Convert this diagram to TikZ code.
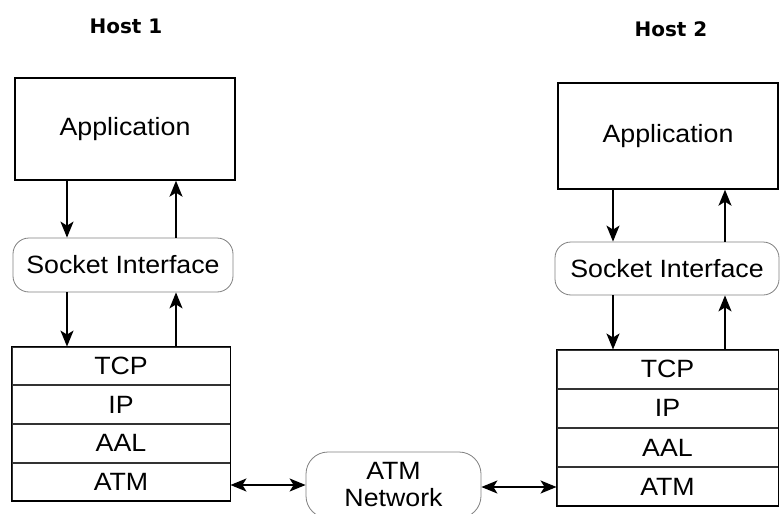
\documentclass[tikz,border=0pt]{standalone}
\usepackage{fontspec}
\setmainfont[FakeStretch=1.07]{Liberation Sans}
\newfontfamily\hostfont{DejaVu Sans}
\usetikzlibrary{arrows.meta}
\begin{document}
\begin{tikzpicture}[x=1pt,y=-1pt,
  lbl/.style={font=\fontsize{25}{27}\selectfont, inner sep=0pt},
  hostlabel/.style={font=\hostfont\bfseries\fontsize{20}{24}\selectfont, inner sep=0pt},
  appbox/.style={lbl, draw, line width=1.4pt},
  sockbox/.style={lbl, draw=black!50, line width=0.8pt, rounded corners=16pt},
  layer1/.style={lbl, draw=black!80, line width=0.9pt, minimum width=218pt, minimum height=37.75pt},
  layer2/.style={lbl, draw=black!80, line width=0.9pt, minimum width=221pt, minimum height=38.25pt},
  frame/.style={draw, line width=1.4pt},
  netbox/.style={lbl, draw=black!50, line width=0.8pt, rounded corners=22pt, align=center},
  arr/.style={line width=1.7pt, -{Stealth[length=16pt,width=13pt,inset=4pt]}},
  darr/.style={line width=1.7pt, {Stealth[length=16pt,width=13pt,inset=4pt]}-{Stealth[length=16pt,width=13pt,inset=4pt]}}
]
\clip (0,0) rectangle (780,514);
\fill[white] (0,0) rectangle (780,514);

% host titles
\node[hostlabel] (h1) at (126,26) {Host 1};
\node[hostlabel] (h2) at (671,29) {Host 2};

% host 1
\node[appbox, minimum width=220pt, minimum height=102pt] (app1) at (125,129) {Application};
\node[sockbox, minimum width=220pt, minimum height=54pt] (sock1) at (123,265) {Socket Interface};
\node[layer1] (tcp1) at (121,365.9) {TCP};
\node[layer1, anchor=north] (ip1) at (tcp1.south) {IP};
\node[layer1, anchor=north] (aal1) at (ip1.south) {AAL};
\node[layer1, anchor=north] (atm1) at (aal1.south) {ATM};
\draw[frame] (tcp1.north west) rectangle (atm1.south east);

% host 2
\node[appbox, minimum width=220pt, minimum height=106pt] (app2) at (668,136) {Application};
\node[sockbox, minimum width=224pt, minimum height=53pt] (sock2) at (667,268.5) {Socket Interface};
\node[layer2] (tcp2) at (667.5,369.1) {TCP};
\node[layer2, anchor=north] (ip2) at (tcp2.south) {IP};
\node[layer2, anchor=north] (aal2) at (ip2.south) {AAL};
\node[layer2, anchor=north] (atm2) at (aal2.south) {ATM};
\draw[frame] (tcp2.north west) rectangle (atm2.south east);

% network cloud
\node[netbox, minimum width=175pt, minimum height=66pt] (net) at (393.5,485) {ATM\\Network};

% vertical columns for the arrows
\coordinate (c1d) at (67,0);
\coordinate (c1u) at (176,0);
\coordinate (c2d) at (613,0);
\coordinate (c2u) at (725,0);

\draw[arr] (app1.south -| c1d) -- (sock1.north -| c1d);
\draw[arr] (sock1.north -| c1u) -- (app1.south -| c1u);
\draw[arr] (sock1.south -| c1d) -- (tcp1.north -| c1d);
\draw[arr] (tcp1.north -| c1u) -- (sock1.south -| c1u);

\draw[arr] (app2.south -| c2d) -- (sock2.north -| c2d);
\draw[arr] (sock2.north -| c2u) -- (app2.south -| c2u);
\draw[arr] (sock2.south -| c2d) -- (tcp2.north -| c2d);
\draw[arr] (tcp2.north -| c2u) -- (sock2.south -| c2u);

% links to the network
\coordinate (lk1) at (0,485);
\coordinate (lk2) at (0,487);
\draw[darr] (atm1.east |- lk1) -- (net.west |- lk1);
\draw[darr] (net.east |- lk2) -- (atm2.west |- lk2);
\end{tikzpicture}
\end{document}
